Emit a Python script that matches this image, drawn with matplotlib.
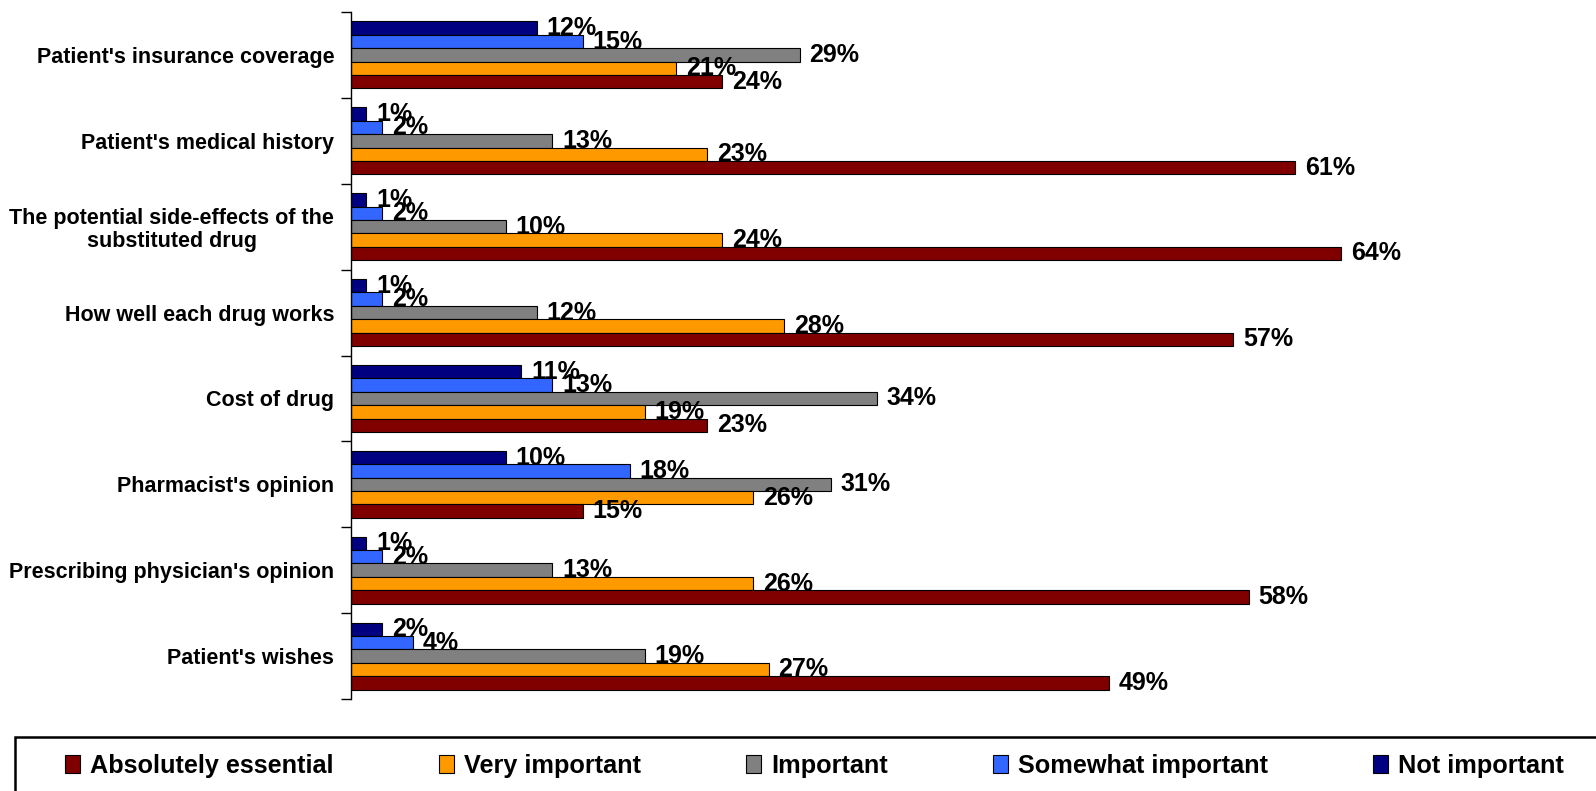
import numpy as np
import matplotlib.pyplot as plt
from matplotlib.ticker import FixedLocator
from matplotlib.patches import Rectangle

plt.rcParams['font.family'] = ['Liberation Sans', 'DejaVu Sans']
plt.rcParams['font.weight'] = 'bold'

# Data (top to bottom as shown)
categories = [
    "Patient's insurance coverage",
    "Patient's medical history",
    "The potential side-effects of the\nsubstituted drug",
    "How well each drug works",
    "Cost of drug",
    "Pharmacist's opinion",
    "Prescribing physician's opinion",
    "Patient's wishes",
]
not_important = [12, 1, 1, 1, 11, 10, 1, 2]
somewhat_important = [15, 2, 2, 2, 13, 18, 2, 4]
important = [29, 13, 10, 12, 34, 31, 13, 19]
very_important = [21, 23, 24, 28, 19, 26, 26, 27]
absolutely_essential = [24, 61, 64, 57, 23, 15, 58, 49]

# series drawn top-down inside each group
series = [
    ("Not important", not_important, "#000080"),
    ("Somewhat important", somewhat_important, "#3366FF"),
    ("Important", important, "#808080"),
    ("Very important", very_important, "#FF9900"),
    ("Absolutely essential", absolutely_essential, "#800000"),
]

fig = plt.figure(figsize=(15.96, 7.91), dpi=100)
ax = fig.add_axes([351 / 1596, 1 - 699 / 791, 1238 / 1596, 687 / 791])

y = np.arange(len(categories))
h = 0.156
handles = {}
for k, (name, vals, col) in enumerate(series):
    pos = y + (k - 2) * h
    bars = ax.barh(pos, vals, height=h, color=col, edgecolor='black', linewidth=0.8)
    handles[name] = bars
    for p, v in zip(pos, vals):
        ax.annotate(f"{v}%", (v, p), xytext=(7, 0), textcoords='offset points',
                    ha='left', va='center', fontsize=18, fontweight='bold')

ax.set_xlim(0, 80)
ax.set_ylim(len(categories) - 0.5, -0.5)
ax.set_yticks(y)
ax.set_yticklabels(categories, fontsize=15.5, fontweight='bold',
                   multialignment='center', linespacing=1.1)
ax.tick_params(axis='y', which='major', length=0, pad=12)
ax.yaxis.set_minor_locator(FixedLocator(np.arange(-0.5, len(categories), 1.0)))
ax.tick_params(axis='y', which='minor', length=7, width=1, color='black')
ax.set_xticks([])
for s in ['top', 'right', 'bottom']:
    ax.spines[s].set_visible(False)
ax.spines['left'].set_linewidth(1)

# legend box runs off the right edge
fig.patches.append(Rectangle((15 / 1596, -0.1), 1.1, 1 - 737 / 791 + 0.1,
                             transform=fig.transFigure, fill=False,
                             edgecolor='black', linewidth=1.8))

order = ["Absolutely essential", "Very important", "Important", "Somewhat important", "Not important"]
leg = fig.legend([handles[n] for n in order], order, loc='center left',
                 bbox_to_anchor=(65 / 1596, 1 - 766 / 791), borderaxespad=0,
                 ncol=5, frameon=False, borderpad=0,
                 prop={'size': 18.2, 'weight': 'bold'}, handlelength=0.6, handleheight=0.7,
                 handletextpad=0.4, columnspacing=4.15)

fig.savefig("out.png", dpi=100)
